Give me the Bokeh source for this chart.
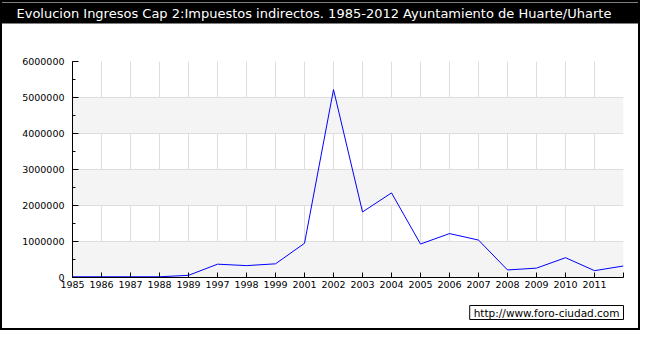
from bokeh.plotting import figure
from bokeh.models import (FixedTicker, SingleIntervalTicker, BasicTickFormatter,
                          Range1d, Title)
from bokeh.embed import file_html
from bokeh.resources import INLINE

years = ["1985", "1986", "1987", "1988", "1989", "1997", "1998", "1999", "2001",
         "2002", "2003", "2004", "2005", "2006", "2007", "2008", "2009", "2010",
         "2011", "2012"]
values = [20000, 20000, 20000, 20000, 60000, 370000, 330000, 380000, 950000,
          5220000, 1820000, 2350000, 930000, 1220000, 1040000, 210000, 260000,
          550000, 190000, 320000]
tick_labels = years[:-1] + [""]
y_grid_levels = [0, 1, 1000000, 2000000, 3000000, 4000000, 5000000, 6000000]
title_text = "Evolucion Ingresos Cap 2:Impuestos indirectos. 1985-2012 Ayuntamiento de Huarte/Uharte"
watermark = "http://www.foro-ciudad.com"

W, H = 640, 330
FONT = "DejaVu Sans"
n = len(years)
xs = list(range(n))

p = figure(width=W, height=H, output_backend="svg", toolbar_location=None,
           x_range=Range1d(0, n - 1), y_range=Range1d(0, 6000000),
           min_border_left=70, min_border_right=19, min_border_top=0,
           min_border_bottom=0)
p.outline_line_color = None
p.background_fill_color = "white"
p.border_fill_color = "white"
p.styles = {"border": "2px solid black"}

# title bar (outermost panel above the frame)
p.title.text = title_text
p.title.align = "left"
p.title.vertical_align = "top"
p.title.offset = -96
p.title.standoff = 0
p.title.text_color = "white"
p.title.text_font = FONT
p.title.text_font_style = "normal"
p.title.text_font_size = "13px"
p.title.background_fill_color = "black"
p.title.padding = dict(left=40, right=40, top=3, bottom=3)

# empty spacer between the title bar and the plot area
p.add_layout(Title(text=" ", text_font_size="1px", standoff=33), "above")

xt = FixedTicker(ticks=xs)
p.xaxis.ticker = xt
p.xaxis.major_label_overrides = {i: tick_labels[i] for i in xs}
p.xaxis.major_tick_in = 5
p.xaxis.major_tick_out = 0
p.xaxis.minor_tick_line_color = None
p.xaxis.major_label_standoff = 3
p.xaxis.major_label_text_font = FONT
p.xaxis.major_label_text_font_size = "9.5px"
p.xaxis.major_label_text_color = "black"
p.xaxis.axis_line_color = "black"

yt = SingleIntervalTicker(interval=1000000, num_minor_ticks=2)
p.yaxis.ticker = yt
p.yaxis.formatter = BasicTickFormatter(use_scientific=False)
p.yaxis.major_tick_in = 6
p.yaxis.major_tick_out = 0
p.yaxis.minor_tick_in = 3
p.yaxis.minor_tick_out = 0
p.yaxis.major_label_standoff = 8
p.yaxis.major_label_text_font = FONT
p.yaxis.major_label_text_font_size = "9.5px"
p.yaxis.major_label_text_color = "black"
p.yaxis.axis_line_color = "black"

p.xgrid.ticker = xt
p.xgrid.grid_line_color = "#dddddd"
p.ygrid.ticker = FixedTicker(ticks=y_grid_levels)
p.ygrid.grid_line_color = "#dddddd"
p.ygrid.band_fill_color = "#f4f4f4"
p.ygrid.band_fill_alpha = 1

p.line(x=xs, y=values, line_color="#0000ff", line_width=1)

wm = Title(text=watermark, align="right", offset=0, text_color="black",
           text_font=FONT, text_font_style="normal", text_font_size="10.5px",
           background_fill_color="white", border_line_color="black",
           border_line_width=1, padding=dict(left=4, right=4, top=1, bottom=1),
           standoff=26)
p.add_layout(wm, "below")

open("out.html", "w").write(file_html(p, INLINE))
